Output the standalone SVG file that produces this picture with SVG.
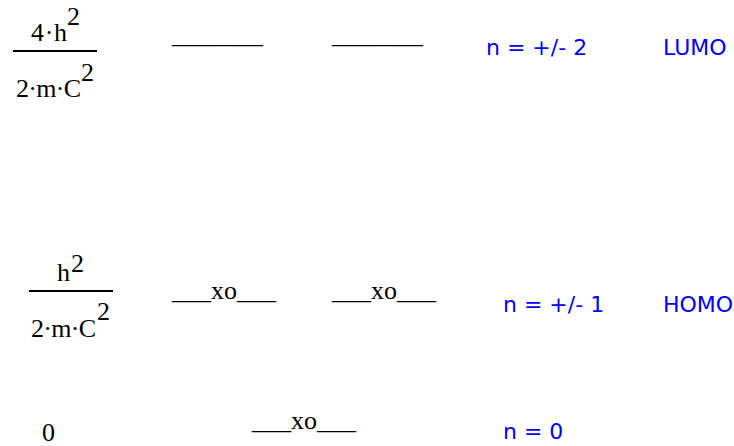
<svg xmlns="http://www.w3.org/2000/svg" width="734" height="446" viewBox="0 0 734 446">
<style>
.m{font-family:"Liberation Serif","Times New Roman",serif;font-size:26px;fill:#000}
.l{font-family:"Liberation Serif","Times New Roman",serif;font-size:26px;fill:#000}
.b{font-family:"DejaVu Sans",Verdana,sans-serif;font-size:22px;fill:#0000ff}
.bar{stroke:#000;stroke-width:2}
</style>
<rect width="734" height="446" fill="#fff"/>
<g id="energy-lumo">
<text class="m" x="31" y="41" textLength="36" lengthAdjust="spacing">4·h</text>
<text class="m" x="67" y="25">2</text>
<line class="bar" x1="13" y1="51" x2="97" y2="51"/>
<text class="m" x="16" y="97" textLength="65" lengthAdjust="spacing">2·m·C</text>
<text class="m" x="81" y="81">2</text>
</g>
<g id="energy-homo">
<text class="m" x="57" y="281">h</text>
<text class="m" x="71" y="272">2</text>
<line class="bar" x1="29" y1="291" x2="113" y2="291"/>
<text class="m" x="31" y="337" textLength="65" lengthAdjust="spacing">2·m·C</text>
<text class="m" x="97" y="320">2</text>
</g>
<g id="energy-zero">
<text class="m" x="42" y="441">0</text>
</g>
<g id="level-lumo-a"><text class="l" x="172" y="43">_______</text></g>
<g id="level-lumo-b"><text class="l" x="332" y="43">_______</text></g>
<g id="level-homo-a"><text class="l" x="172" y="299">___xo___</text></g>
<g id="level-homo-b"><text class="l" x="332" y="299">___xo___</text></g>
<g id="level-zero"><text class="l" x="252" y="429">___xo___</text></g>
<g id="label-n2"><text class="b" x="486" y="55">n = +/- 2</text></g>
<g id="label-lumo"><text class="b" x="663" y="55">LUMO</text></g>
<g id="label-n1"><text class="b" x="503" y="312">n = +/- 1</text></g>
<g id="label-homo"><text class="b" x="663" y="312">HOMO</text></g>
<g id="label-n0"><text class="b" x="503" y="439">n = 0</text></g>
</svg>
